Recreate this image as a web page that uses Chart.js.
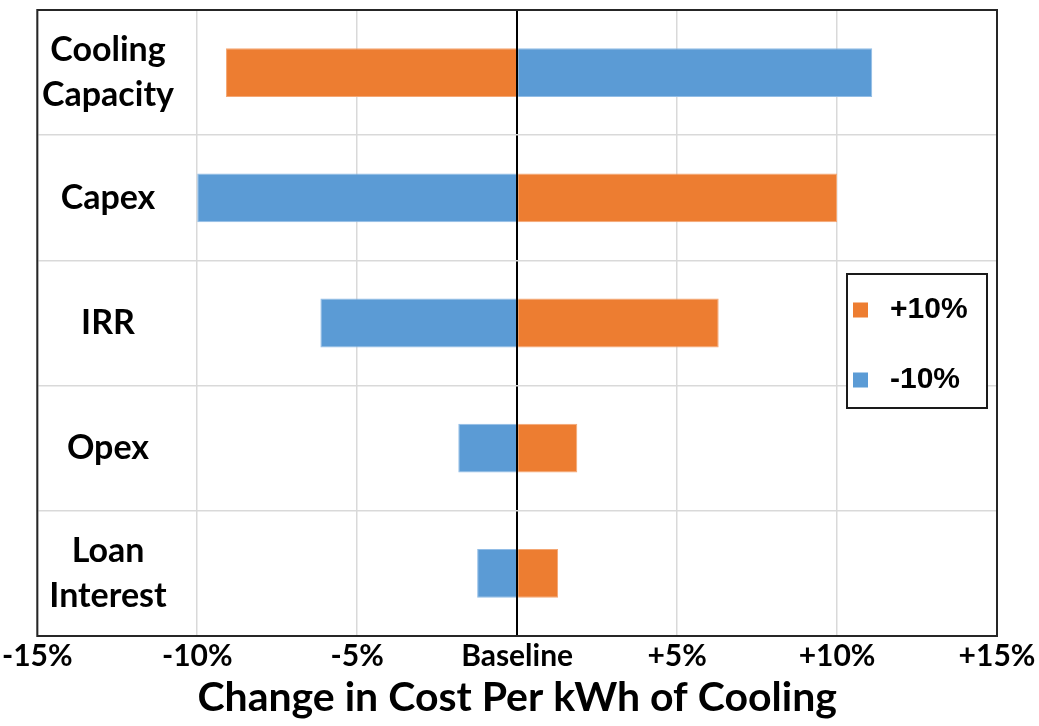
<!DOCTYPE html>
<html>
<head>
<meta charset="utf-8">
<script src="https://cdn.jsdelivr.net/npm/chart.js@4.4.1/dist/chart.umd.min.js"></script>
<style>
  html, body { margin: 0; padding: 0; background: #ffffff; }
  #wrap { width: 1039px; height: 726px; position: relative; }
</style>
</head>
<body>
<div id="wrap"><canvas id="c" width="1039" height="726"></canvas></div>
<script>
// Sensitivity of cost per kWh of cooling to a ±10% change in each input
const categories = [["Cooling", "Capacity"], ["Capex"], ["IRR"], ["Opex"], ["Loan", "Interest"]];
const plus10 = [-9.1, 10.0, 6.3, 1.88, 1.28];
const minus10 = [11.1, -10.0, -6.15, -1.84, -1.25];
const seriesNames = ["+10%", "-10%"];
const xTicks = [-15, -10, -5, 0, 5, 10, 15];
const xTickLabels = ["-15%", "-10%", "-5%", "Baseline", "+5%", "+10%", "+15%"];
const axisTitle = "Change in Cost Per kWh of Cooling";

const ORANGE = "#ED7D31";
const BLUE = "#5B9BD5";
const LABEL_FONT = "Lato";

// Category names drawn inside the left part of the plot area
const categoryLabels = {
  id: "categoryLabels",
  afterDatasetsDraw(chart) {
    const { ctx } = chart;
    const y = chart.scales.y;
    ctx.save();
    ctx.fillStyle = "#000";
    ctx.font = "bold 34px " + LABEL_FONT;
    ctx.textAlign = "center";
    ctx.textBaseline = "middle";
    const lineGap = 45;
    categories.forEach((lines, i) => {
      const cy = y.getPixelForValue(i);
      const n = lines.length;
      lines.forEach((t, k) => {
        ctx.fillText(t, 108, cy + (k - (n - 1) / 2) * lineGap);
      });
    });
    ctx.restore();
  }
};

// Frame around the plot area
const frame = {
  id: "frame",
  afterDraw(chart) {
    const { ctx, chartArea: a } = chart;
    ctx.save();
    ctx.strokeStyle = "#262626";
    ctx.lineWidth = 2;
    ctx.strokeRect(a.left, a.top, a.right - a.left, a.bottom - a.top);
    ctx.restore();
  }
};

// Boxed legend on the right side of the plot
const boxLegend = {
  id: "boxLegend",
  afterDraw(chart) {
    const { ctx } = chart;
    const bx = 847, by = 274, bw = 140, bh = 134;
    ctx.save();
    ctx.fillStyle = "#fff";
    ctx.fillRect(bx, by, bw, bh);
    ctx.strokeStyle = "#1a1a1a";
    ctx.lineWidth = 2;
    ctx.strokeRect(bx, by, bw, bh);
    ctx.font = "bold 30px 'Liberation Sans', Arial, sans-serif";
    ctx.textBaseline = "middle";
    ctx.textAlign = "left";
    chart.data.datasets.forEach((ds, i) => {
      const cy = by + 36 + i * 70;
      ctx.fillStyle = ds.backgroundColor;
      ctx.fillRect(bx + 6, cy - 7.5, 15, 15);
      ctx.fillStyle = "#000";
      ctx.fillText(ds.label, bx + 43, cy);
    });
    ctx.restore();
  }
};

new Chart(document.getElementById("c"), {
  type: "bar",
  data: {
    labels: categories.map(l => l.join(" ")),
    datasets: [
      { label: seriesNames[0], data: plus10, backgroundColor: ORANGE, borderColor: "#F4A774", borderWidth: 1 },
      { label: seriesNames[1], data: minus10, backgroundColor: BLUE, borderColor: "#92BDE6", borderWidth: 1 }
    ]
  },
  options: {
    indexAxis: "y",
    responsive: false,
    animation: false,
    devicePixelRatio: 1,
    layout: { padding: { left: 37, top: 10, right: 42, bottom: 0 } },
    datasets: { bar: { categoryPercentage: 1.0, barPercentage: 0.39 } },
    plugins: { legend: { display: false }, tooltip: { enabled: false } },
    scales: {
      x: {
        type: "linear",
        min: -15,
        max: 15,
        stacked: true,
        afterBuildTicks: (scale) => { scale.ticks = xTicks.map(v => ({ value: v })); },
        afterFit: (scale) => { scale.height = 90; },
        grid: {
          color: (c) => (c.tick && c.tick.value === 0 ? "#000" : "#d9d9d9"),
          lineWidth: (c) => (c.tick && c.tick.value === 0 ? 2 : 1.5),
          drawTicks: false
        },
        border: { display: false },
        ticks: {
          padding: 2,
          color: "#000",
          font: { family: LABEL_FONT, weight: "bold", size: 30 },
          maxRotation: 0,
          autoSkip: false,
          callback: (v) => xTickLabels[xTicks.indexOf(v)]
        },
        title: {
          display: true,
          text: axisTitle,
          color: "#000",
          font: { family: LABEL_FONT, weight: "bold", size: 41 },
          padding: { top: 0, bottom: 4 }
        }
      },
      y: {
        type: "category",
        stacked: true,
        grid: { offset: true, color: "#d9d9d9", lineWidth: 1.5, drawTicks: false },
        border: { display: false },
        ticks: { display: false }
      }
    }
  },
  plugins: [categoryLabels, frame, boxLegend]
});
</script>
</body>
</html>
